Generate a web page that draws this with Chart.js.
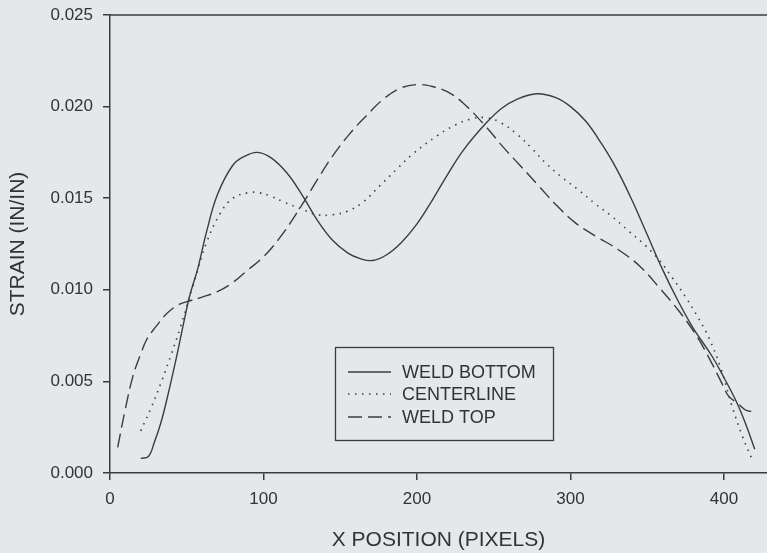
<!DOCTYPE html>
<html lang="en">
<head>
  <title>Strain vs X Position</title>
  <script src="https://cdn.jsdelivr.net/npm/chart.js"></script>
  <style>
    html, body { margin: 0; padding: 0; background: #e4e8eb; }
    #wrap { width: 767px; height: 553px; position: relative; }
  </style>
</head>
<body>
<div id="wrap">
  <canvas id="strainChart"></canvas>
</div>
<script>
  // values
  const seriesNames = ['WELD BOTTOM', 'CENTERLINE', 'WELD TOP'];
  const xTicks = [0, 100, 200, 300, 400];
  const yTicks = [0, 0.005, 0.010, 0.015, 0.020, 0.025];

  const weldBottomX = [20, 25, 29, 33, 37, 43, 48, 52, 57, 63, 70, 80, 88, 96, 105, 115, 125, 135, 145, 155, 163, 171, 180, 190, 200, 210, 220, 230, 245, 255, 265, 278, 290, 300, 310, 320, 330, 340, 350, 360, 370, 380, 392, 400, 408, 414, 420];
  const weldBottomY = [0.0008, 0.0009, 0.0017, 0.0027, 0.0040, 0.0062, 0.0082, 0.0097, 0.0111, 0.0132, 0.0152, 0.0168, 0.0173, 0.0175, 0.0172, 0.0164, 0.0152, 0.0138, 0.0127, 0.0120, 0.0117, 0.0116, 0.0119, 0.0126, 0.0136, 0.0149, 0.0163, 0.0176, 0.0191, 0.0199, 0.0204, 0.0207, 0.0205, 0.0200, 0.0192, 0.0180, 0.0166, 0.0149, 0.0130, 0.0111, 0.0094, 0.0079, 0.0064, 0.0052, 0.0039, 0.0027, 0.0013];

  const centerX = [20, 27, 34, 40, 46, 54, 63, 72, 80, 90, 97, 105, 113, 125, 135, 145, 155, 165, 176, 187, 197, 213, 225, 234, 245, 255, 265, 275, 284, 295, 306, 316, 327, 338, 349, 358, 366, 375, 383, 390, 398, 405, 412, 418];
  const centerY = [0.0023, 0.0036, 0.0051, 0.0065, 0.0080, 0.0102, 0.0126, 0.0142, 0.0150, 0.0153, 0.0153, 0.0151, 0.0148, 0.0144, 0.0141, 0.0141, 0.0143, 0.0148, 0.0157, 0.0166, 0.0174, 0.0184, 0.0190, 0.0193, 0.0194, 0.0191, 0.0185, 0.0177, 0.0169, 0.0161, 0.0154, 0.0147, 0.0140, 0.0132, 0.0124, 0.0116, 0.0107, 0.0096, 0.0085, 0.0074, 0.0057, 0.0037, 0.0020, 0.0008];

  const weldTopX = [5, 10, 15, 20, 24, 30, 37, 45, 52, 60, 70, 80, 90, 100, 112, 124, 135, 145, 156, 167, 178, 189, 200, 210, 220, 230, 245, 256, 267, 279, 291, 304, 317, 331, 345, 358, 371, 382, 392, 398, 403, 409, 415, 421];
  const weldTopY = [0.0014, 0.0035, 0.0053, 0.0065, 0.0073, 0.0080, 0.0087, 0.0092, 0.0094, 0.0096, 0.0099, 0.0104, 0.0111, 0.0118, 0.0130, 0.0145, 0.0160, 0.0173, 0.0185, 0.0195, 0.0204, 0.0210, 0.0212, 0.0211, 0.0208, 0.0202, 0.0189, 0.0178, 0.0168, 0.0157, 0.0146, 0.0136, 0.0129, 0.0122, 0.0113, 0.0101, 0.0088, 0.0075, 0.0060, 0.0050, 0.0042, 0.0038, 0.0034, 0.0034];

  const ink = '#3c3c3c';
  const dashes = [[], [1.5, 5.5], [14, 6]];

  function toPoints(xs, ys) {
    return xs.map((x, i) => ({ x: x, y: ys[i] }));
  }

  const datasets = [
    toPoints(weldBottomX, weldBottomY),
    toPoints(centerX, centerY),
    toPoints(weldTopX, weldTopY)
  ].map((pts, i) => ({
    label: seriesNames[i],
    data: pts,
    borderColor: ink,
    borderWidth: i === 1 ? 1.6 : 1.4,
    borderDash: dashes[i],
    pointRadius: 0,
    fill: false,
    tension: 0.4
  }));

  // top frame line + boxed legend inside the plot
  const framePlugin = {
    id: 'frame',
    afterDraw(chart) {
      const ctx = chart.ctx;
      const a = chart.chartArea;
      ctx.save();
      ctx.strokeStyle = ink;
      ctx.lineWidth = 1.5;
      ctx.beginPath();
      ctx.moveTo(a.left, a.top);
      ctx.lineTo(a.right, a.top);
      ctx.stroke();

      // legend box
      ctx.lineWidth = 1.3;
      ctx.strokeRect(335.5, 347.5, 218, 93);
      const rows = [372, 394, 417];
      ctx.font = '18px "Liberation Sans", Arial, sans-serif';
      ctx.textBaseline = 'middle';
      ctx.fillStyle = '#333';
      chart.data.datasets.forEach((ds, i) => {
        ctx.setLineDash(ds.borderDash);
        ctx.lineWidth = 1.5;
        ctx.beginPath();
        ctx.moveTo(348, rows[i]);
        ctx.lineTo(391, rows[i]);
        ctx.stroke();
        ctx.setLineDash([]);
        ctx.fillText(ds.label, 402, rows[i] + 1);
      });
      ctx.restore();
    }
  };

  const tickFont = { family: '"Liberation Sans", Arial, sans-serif', size: 17 };
  const titleFont = { family: '"Liberation Sans", Arial, sans-serif', size: 21 };

  new Chart(document.getElementById('strainChart'), {
    type: 'line',
    data: { datasets: datasets },
    options: {
      responsive: true,
      maintainAspectRatio: false,
      animation: false,
      layout: { padding: { top: 15, right: 0, left: 0, bottom: 0 } },
      plugins: {
        legend: { display: false },
        tooltip: { enabled: false }
      },
      scales: {
        x: {
          type: 'linear',
          min: 0,
          max: 428,
          afterBuildTicks: scale => { scale.ticks = xTicks.map(v => ({ value: v })); },
          afterFit: scale => { scale.height = 80; scale.paddingRight = 0; },
          grid: { drawOnChartArea: false, tickLength: 7, color: ink, lineWidth: 1.5 },
          border: { display: true, color: ink, width: 1.5 },
          ticks: { color: '#333', font: tickFont, padding: 9, maxRotation: 0 },
          title: { display: true, text: 'X POSITION (PIXELS)', color: '#333', font: titleFont, padding: { top: 12, bottom: 0 } }
        },
        y: {
          min: 0,
          max: 0.025,
          afterBuildTicks: scale => { scale.ticks = yTicks.map(v => ({ value: v })); },
          afterFit: scale => { scale.width = 110; scale.paddingTop = 0; scale.paddingBottom = 0; },
          grid: { drawOnChartArea: false, tickLength: 7, color: ink, lineWidth: 1.5 },
          border: { display: true, color: ink, width: 1.5 },
          ticks: { color: '#333', font: tickFont, padding: 10, callback: v => v.toFixed(3) },
          title: { display: true, text: 'STRAIN (IN/IN)', color: '#333', font: titleFont, padding: { top: 6, bottom: 0 } }
        }
      }
    },
    plugins: [framePlugin]
  });
</script>
</body>
</html>
